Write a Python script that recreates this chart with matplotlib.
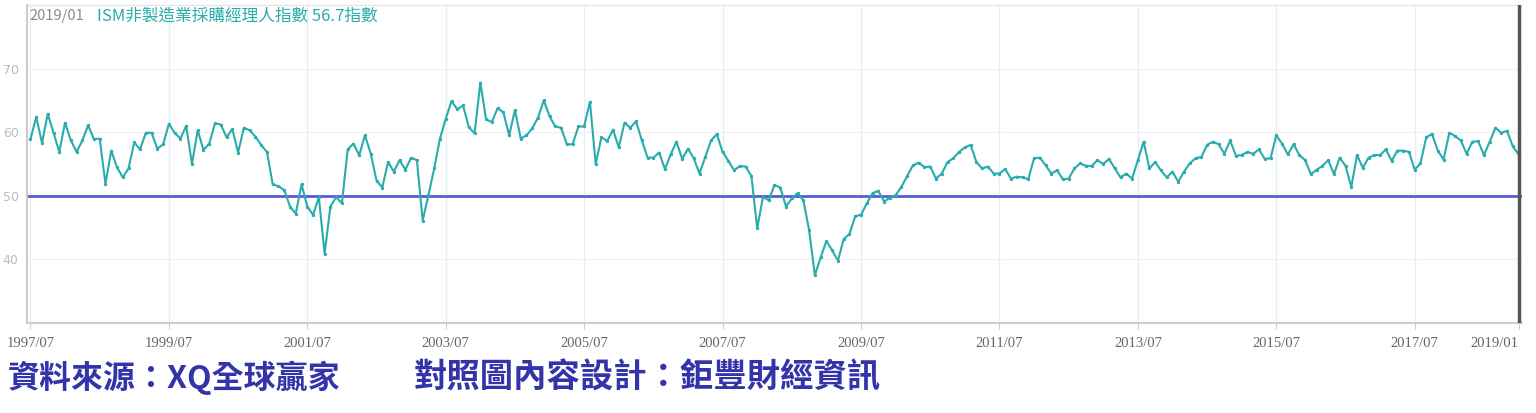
import numpy as np
import pandas as pd
import matplotlib
matplotlib.use("Agg")
import matplotlib.pyplot as plt

# ISM non-manufacturing index, monthly 1997/07 .. 2019/01
values = [
    58.9, 62.4, 58.3, 62.9, 59.9, 56.9, 61.5, 58.7, 56.9, 58.7, 61.1, 58.9,
    59.0, 51.9, 57.1, 54.5, 52.9, 54.3, 58.4, 57.3, 59.9, 59.9, 57.4, 58.1,
    61.3, 59.9, 59.0, 61.0, 55.0, 60.3, 57.2, 58.2, 61.4, 61.2, 59.2, 60.5,
    56.8, 60.7, 60.3, 59.3, 58.0, 56.9, 51.8, 51.5, 50.9, 48.3, 47.2, 51.8,
    48.3, 47.0, 49.8, 40.9, 48.3, 49.8, 48.8, 57.3, 58.2, 56.4, 59.5, 56.6,
    52.4, 51.3, 55.3, 53.8, 55.6, 54.1, 56.0, 55.6, 46.1, 50.1, 54.3, 59.0,
    62.1, 64.9, 63.6, 64.2, 60.8, 59.8, 67.8, 62.0, 61.6, 63.8, 63.1, 59.5,
    63.5, 59.0, 59.5, 60.6, 62.3, 65.0, 62.5, 60.9, 60.7, 58.1, 58.1, 60.9,
    60.9, 64.8, 55.0, 59.2, 58.6, 60.4, 57.6, 61.5, 60.7, 61.7, 58.7, 56.0,
    56.0, 56.8, 54.2, 56.5, 58.5, 55.8, 57.4, 55.9, 53.5, 56.1, 58.7, 59.7,
    56.9, 55.5, 54.0, 54.7, 54.6, 53.1, 44.9, 49.8, 49.3, 51.7, 51.3, 48.3,
    49.6, 50.4, 49.3, 44.6, 37.5, 40.3, 42.9, 41.4, 39.8, 43.2, 44.0, 46.8,
    47.0, 48.8, 50.4, 50.8, 49.1, 49.7, 50.1, 51.4, 53.1, 54.8, 55.2, 54.5,
    54.6, 52.7, 53.5, 55.3, 55.9, 56.9, 57.6, 58.0, 55.3, 54.3, 54.6, 53.5,
    53.5, 54.2, 52.7, 53.0, 52.9, 52.6, 55.9, 56.0, 54.8, 53.5, 54.0, 52.6,
    52.7, 54.3, 55.1, 54.7, 54.7, 55.6, 55.0, 55.8, 54.3, 52.9, 53.5, 52.7,
    55.6, 58.5, 54.3, 55.3, 54.0, 52.9, 53.8, 52.2, 53.8, 55.1, 55.9, 56.1,
    58.0, 58.5, 58.1, 56.6, 58.7, 56.3, 56.4, 56.9, 56.6, 57.3, 55.8, 55.9,
    59.5, 58.2, 56.5, 58.1, 56.4, 55.6, 53.4, 54.1, 54.7, 55.6, 53.4, 56.0,
    54.7, 51.4, 56.4, 54.4, 56.0, 56.4, 56.4, 57.3, 55.5, 57.1, 57.1, 56.9,
    54.1, 55.1, 59.2, 59.7, 57.1, 55.7, 59.9, 59.4, 58.7, 56.6, 58.5, 58.6,
    56.4, 58.5, 60.7, 59.9, 60.2, 57.8, 56.5,
]
months = pd.period_range("1997-07", periods=len(values), freq="M")
tick_labels = ["1997/07", "1999/07", "2001/07", "2003/07", "2005/07", "2007/07",
               "2009/07", "2011/07", "2013/07", "2015/07", "2017/07", "2019/01"]
y_ticks = [40, 50, 60, 70]
threshold = 50
title_date = "2019/01"
title_series = "ISM非製造業採購經理人指數 56.7指數"
source_note = "資料來源：XQ全球贏家"
design_note = "對照圖內容設計：鉅豐財經資訊"

cjk = ["Noto Sans CJK TC", "DejaVu Sans"]
teal = "#2aacac"
note_blue = "#3434aa"

x = np.arange(len(values))
label_pos = [months.get_loc(pd.Period(t.replace("/", "-"), freq="M")) for t in tick_labels]

fig = plt.figure(figsize=(15.36, 4.13), dpi=100)
ax = fig.add_axes([27 / 1536, 1 - 323 / 413, (1522 - 27) / 1536, (323 - 5) / 413])

for p in label_pos:
    ax.axvline(p, color="#dff1f6", lw=1, zorder=0)
for v in y_ticks:
    ax.axhline(v, color="#f0f0f0", lw=1, zorder=0)

ax.plot(x, values, color=teal, lw=1.5, marker="o", ms=1.4, zorder=3)
ax.axhline(threshold, color="#5a5ad8", lw=2, zorder=2)
ax.axvline(len(values) - 1, color="#555555", lw=2.5, zorder=4)

ax.set_xlim(-0.6, 258.6)
ax.set_ylim(30, 80)
ax.set_yticks(y_ticks)
ax.set_yticklabels([str(v) for v in y_ticks], color="#bbbbbb", fontsize=9)
ax.set_xticks(label_pos)
ax.set_xticklabels(tick_labels, color="#666666", fontsize=10.5, family="Liberation Serif")
ax.get_xticklabels()[-1].set_horizontalalignment("right")
ax.get_xticklabels()[-1].set_x(label_pos[-1] + 0.4)
ax.tick_params(axis="y", length=0, pad=6)
ax.tick_params(axis="x", length=4, color="#cccccc", pad=6)
for side in ["top", "right"]:
    ax.spines[side].set_visible(False)
ax.spines["left"].set_color("#cccccc")
ax.spines["bottom"].set_color("#cccccc")
ax.spines["left"].set_linewidth(1.5)
ax.spines["bottom"].set_linewidth(1.5)
ax.axhline(80, color="#e6e6e6", lw=1, clip_on=False)

fig.text(29 / 1536, 1 - 16 / 413, title_date, color="#8a8a8a", fontsize=10.5,
         family=cjk, va="center")
fig.text(97 / 1536, 1 - 16 / 413, title_series, color=teal, fontsize=12,
         family=cjk, va="center")

fig.text(8 / 1536, 1 - 378 / 413, source_note, color=note_blue, fontsize=23,
         family=cjk, weight="bold", va="center")
fig.text(414 / 1536, 1 - 378 / 413, design_note, color=note_blue, fontsize=24,
         family=cjk, weight="bold", va="center")

fig.savefig("out.png", dpi=100)
